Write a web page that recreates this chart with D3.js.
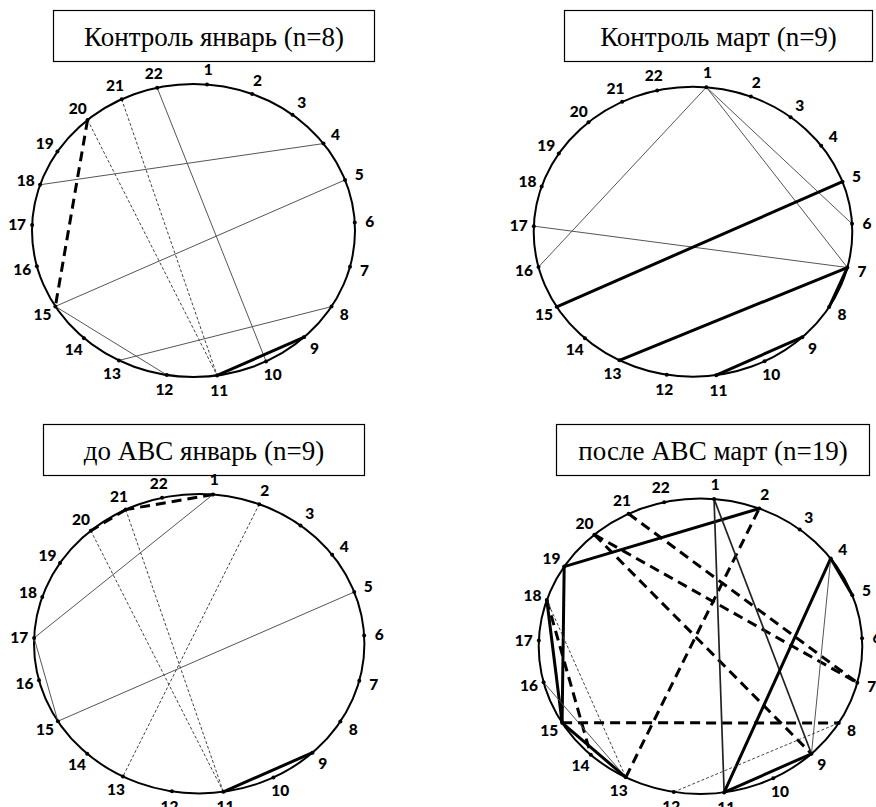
<!DOCTYPE html>
<html>
<head>
<meta charset="utf-8">
<script src="https://cdn.jsdelivr.net/npm/d3@7"></script>
<style>
  html, body { margin: 0; padding: 0; background: #fff; }
  svg { display: block; }
</style>
</head>
<body>
<svg id="chart" width="876" height="807"></svg>
<script>
// Node numbers placed around each circle, and their angular positions (degrees, clockwise from top)
const nodeLabels = ["1","2","3","4","5","6","7","8","9","10","11","12","13","14","15","16","17","18","19","20","21","22"];
const nodeAngles = [4.8, 21.3, 37.8, 53.6, 69.8, 86.9, 104.3, 121.3, 136.7, 153.3, 171.6,
                    189.5, 207.5, 222.7, 238.8, 255.9, 272.2, 288.2, 302.6, 319.0, 333.6, 347.0];

// Panel titles
const titles = ["Контроль январь (n=8)", "Контроль март (n=9)", "до АВС январь (n=9)", "после АВС март (n=19)"];

// Connections per group: [from node, to node, line style]
const controlJanLinks = [
  [20, 15, "dashed"], [21, 11, "dotted"], [20, 11, "dotted"], [22, 10, "thin"],
  [4, 18, "thin"], [5, 15, "thin"], [15, 12, "thin"], [8, 13, "thin"], [11, 9, "thick"]
];
const controlMarLinks = [
  [1, 16, "thin"], [1, 7, "thin"], [1, 6, "thin"], [17, 7, "thin"],
  [5, 15, "thick"], [7, 13, "thick"], [7, 8, "thick"], [11, 9, "thick"]
];
const preAbcJanLinks = [
  [1, 21, "dashed"], [21, 20, "dashed"], [1, 17, "thin"], [17, 15, "thin"], [5, 15, "thin"],
  [2, 13, "dotted"], [21, 11, "dotted"], [20, 11, "dotted"], [11, 9, "thick"]
];
const postAbcMarLinks = [
  [19, 2, "thick"], [19, 15, "thick"], [18, 15, "thick"], [18, 14, "dashed"], [18, 13, "dotted"],
  [16, 13, "thin"], [15, 13, "thick"], [15, 8, "dashed"], [13, 2, "dashed"], [21, 7, "dashed"],
  [20, 7, "dashed"], [20, 9, "dashed"], [1, 11, "medium"], [1, 9, "medium"], [4, 11, "thick"],
  [4, 9, "thin"], [4, 5, "thick"], [11, 9, "thick"], [12, 8, "dotted"]
];

const panelLinks = [controlJanLinks, controlMarLinks, preAbcJanLinks, postAbcMarLinks];

// Layout of the four panels: ellipse centre/radii and title box
const panels = [
  { cx: 193.5, cy: 230.5, rx: 161.5, ry: 146.5, box: { x: 53.5, y: 10.5, w: 321, h: 51 } },
  { cx: 693.0, cy: 231.7, rx: 159.3, ry: 145.0, box: { x: 564.5, y: 10.5, w: 308, h: 51 } },
  { cx: 199.2, cy: 643.7, rx: 165.2, ry: 149.7, box: { x: 43.5, y: 424.5, w: 321, h: 51 } },
  { cx: 700.5, cy: 646.2, rx: 161.8, ry: 147.8, box: { x: 556.5, y: 424.5, w: 313, h: 51 } }
];

const styles = {
  thin:   { width: 1.0, color: "#555", dash: null },
  medium: { width: 1.7, color: "#222", dash: null },
  thick:  { width: 3.0, color: "#000", dash: null },
  dashed: { width: 3.0, color: "#000", dash: "10,6" },
  dotted: { width: 1.0, color: "#444", dash: "3,2" }
};

const angle = d3.scaleLinear().domain([0, 360]).range([0, 2 * Math.PI]);
const svg = d3.select("#chart");

panels.forEach((p, i) => {
  const g = svg.append("g");
  const pos = (node, extra = 0) => {
    const a = angle(nodeAngles[node - 1]);
    return [p.cx + (p.rx + extra) * Math.sin(a), p.cy - (p.ry + extra) * Math.cos(a)];
  };

  // title box
  g.append("rect")
    .attr("x", p.box.x).attr("y", p.box.y)
    .attr("width", p.box.w).attr("height", p.box.h)
    .attr("fill", "#fff").attr("stroke", "#000").attr("stroke-width", 1.2);
  g.append("text")
    .attr("x", p.box.x + p.box.w / 2).attr("y", p.box.y + p.box.h / 2 + 9.5)
    .attr("text-anchor", "middle")
    .attr("font-family", "'Liberation Serif', 'Times New Roman', serif")
    .attr("font-size", 27)
    .attr("fill", "#000")
    .text(titles[i]);

  // outer circle
  g.append("ellipse")
    .attr("cx", p.cx).attr("cy", p.cy).attr("rx", p.rx).attr("ry", p.ry)
    .attr("fill", "none").attr("stroke", "#000").attr("stroke-width", 2);

  // connections
  g.selectAll("line.link")
    .data(panelLinks[i])
    .join("line")
    .attr("class", "link")
    .attr("x1", d => pos(d[0])[0]).attr("y1", d => pos(d[0])[1])
    .attr("x2", d => pos(d[1])[0]).attr("y2", d => pos(d[1])[1])
    .attr("stroke", d => styles[d[2]].color)
    .attr("stroke-width", d => styles[d[2]].width)
    .attr("stroke-dasharray", d => styles[d[2]].dash)
    .attr("stroke-linecap", "butt");

  // node dots
  g.selectAll("circle.node")
    .data(nodeLabels)
    .join("circle")
    .attr("class", "node")
    .attr("cx", (d, k) => pos(k + 1)[0])
    .attr("cy", (d, k) => pos(k + 1)[1])
    .attr("r", 2).attr("fill", "#000");

  // node numbers
  g.selectAll("text.lbl")
    .data(nodeLabels)
    .join("text")
    .attr("class", "lbl")
    .attr("x", (d, k) => pos(k + 1, 15)[0])
    .attr("y", (d, k) => pos(k + 1, 15)[1])
    .attr("dy", "0.36em")
    .attr("text-anchor", "middle")
    .attr("font-family", "Lato, 'Open Sans', sans-serif")
    .attr("font-weight", "900")
    .attr("font-size", 15.5)
    .attr("fill", "#000")
    .text(d => d);
});
</script>
</body>
</html>
